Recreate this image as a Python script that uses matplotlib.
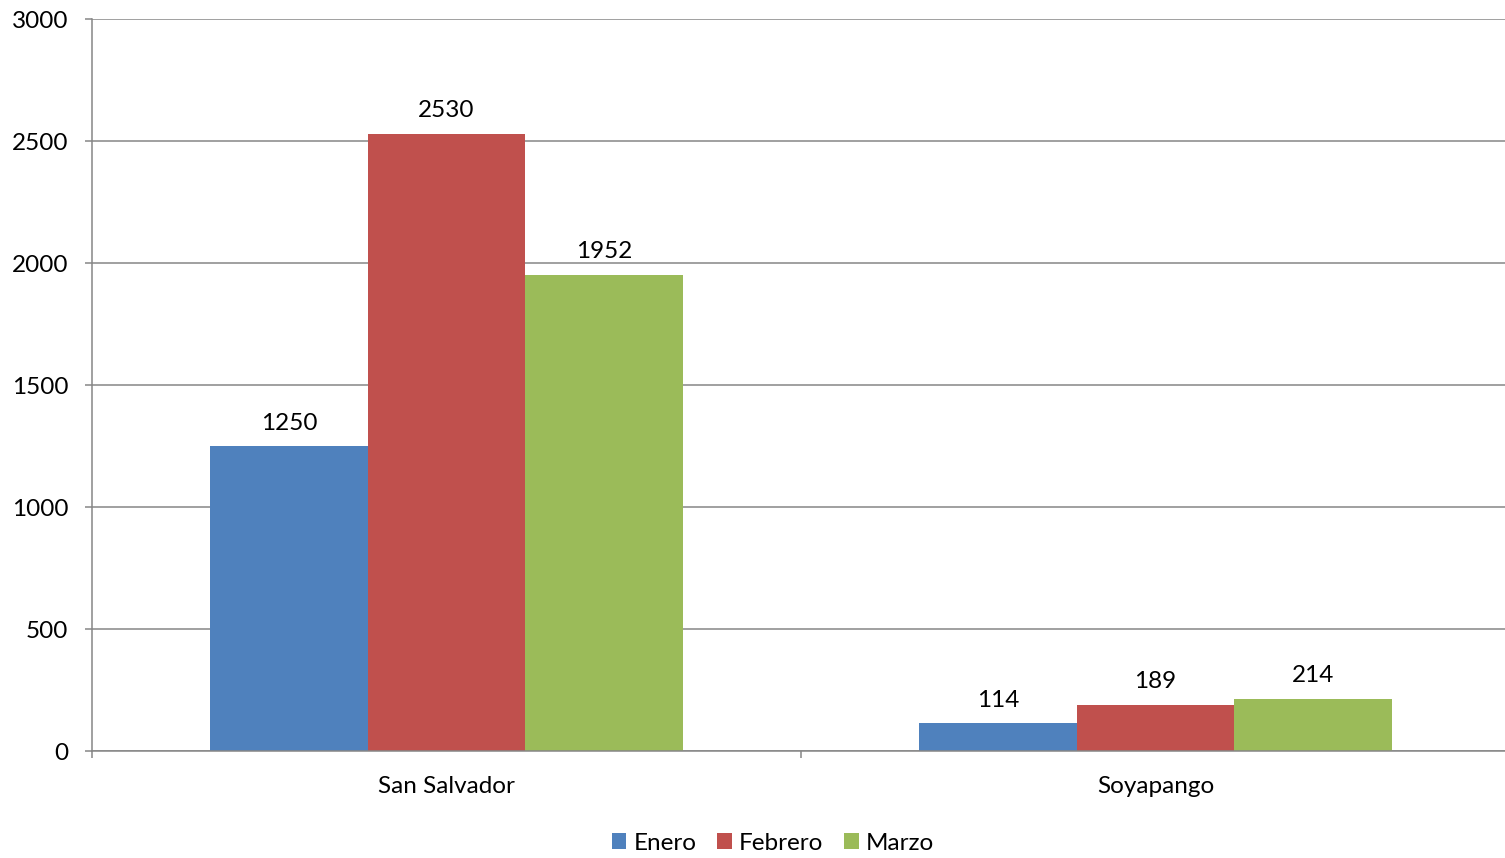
import numpy as np
import matplotlib.pyplot as plt
from matplotlib.ticker import FixedLocator, NullFormatter

plt.rcParams['font.family'] = ['Lato', 'DejaVu Sans']

categories = ['San Salvador', 'Soyapango']
series = ['Enero', 'Febrero', 'Marzo']
enero = [1250, 114]
febrero = [2530, 189]
marzo = [1952, 214]
colors = ['#4F81BD', '#C0504D', '#9BBB59']

W, H = 1505, 858
fig = plt.figure(figsize=(W / 100, H / 100), dpi=100)
ax = fig.add_axes([92 / W, (H - 751) / H, 1418 / W, 732 / H])

x = np.arange(len(categories))
bw = 1 / 4.5
grid_c = '#868686'
fs = 17.5

for i, (name, vals) in enumerate(zip(series, [enero, febrero, marzo])):
    pos = x + (i - 1) * bw
    bars = ax.bar(pos, vals, width=bw, color=colors[i], label=name, zorder=3)
    for b, v in zip(bars, vals):
        ax.annotate(str(v), (b.get_x() + b.get_width() / 2, v),
                    xytext=(0, 9), textcoords='offset points',
                    ha='center', va='bottom', fontsize=fs, color='black')

ax.set_xlim(-0.5, 1.5)
ax.set_ylim(0, 3000)
ax.set_yticks(np.arange(0, 3001, 500))
ax.yaxis.grid(True, color=grid_c, linewidth=1.1, zorder=0)
ax.set_axisbelow(True)

ax.xaxis.set_major_locator(FixedLocator([-0.5, 0.5, 1.5]))
ax.xaxis.set_major_formatter(NullFormatter())
ax.set_xticks(x, minor=True)
ax.set_xticklabels(categories, minor=True)
ax.tick_params(axis='x', which='minor', length=0, pad=18, labelsize=fs)
ax.tick_params(axis='x', which='major', length=5, width=1.1, color=grid_c)
ax.tick_params(axis='y', length=5, width=1.1, color=grid_c, labelsize=fs, pad=12)

for s in ['top', 'right']:
    ax.spines[s].set_visible(False)
for s in ['left', 'bottom']:
    ax.spines[s].set_color(grid_c)
    ax.spines[s].set_linewidth(1.1)
ax.spines['bottom'].set_zorder(4)

fig.legend(loc='center', bbox_to_anchor=(773 / W, (H - 843) / H), ncol=3, frameon=False,
           fontsize=fs, handlelength=0.6, handleheight=0.6, handletextpad=0.3,
           columnspacing=0.85, borderpad=0)

fig.savefig('out.png', dpi=100)
